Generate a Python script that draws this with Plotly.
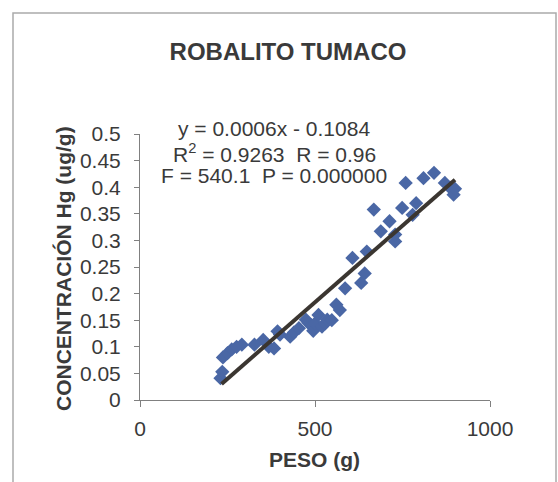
import plotly.graph_objects as go

# Data
peso = [230, 235, 237, 250, 262, 276, 291, 327, 352, 368, 383, 393, 400, 429, 440,
        454, 474, 481, 490, 495, 500, 510, 520, 529, 535, 548, 561, 571, 586, 607,
        632, 642, 648, 668, 688, 713, 729, 729, 749, 759, 779, 789, 810, 840, 871,
        886, 896, 900]
conc = [0.041, 0.053, 0.080, 0.088, 0.095, 0.100, 0.104, 0.104, 0.113, 0.100, 0.097,
        0.129, 0.123, 0.119, 0.127, 0.135, 0.151, 0.145, 0.140, 0.130, 0.144, 0.160,
        0.138, 0.144, 0.151, 0.150, 0.179, 0.169, 0.210, 0.267, 0.220, 0.238, 0.279,
        0.358, 0.317, 0.336, 0.298, 0.311, 0.361, 0.408, 0.348, 0.370, 0.417, 0.427,
        0.408, 0.399, 0.386, 0.397]
trend_x = [233, 900]
trend_y = [0.030, 0.414]

title_text = "ROBALITO TUMACO"
x_title = "PESO (g)"
y_title = "CONCENTRACIÓN Hg (ug/g)"
eq_lines = ["y = 0.0006x - 0.1084",
            "R<sup>2</sup> = 0.9263  R = 0.96",
            "F = 540.1  P = 0.000000"]

FONT = "Arial, Liberation Sans, sans-serif"
TXT = "#3a3a3a"
AX = "#808080"

fig = go.Figure()
fig.add_trace(go.Scatter(x=peso, y=conc, mode="markers",
                         marker=dict(symbol="diamond", size=11, color="#4a67a5",
                                     line=dict(width=0)),
                         showlegend=False, hoverinfo="skip"))
fig.add_trace(go.Scatter(x=trend_x, y=trend_y, mode="lines",
                         line=dict(color="#3b3631", width=4),
                         showlegend=False, hoverinfo="skip"))

W, H = 558, 482
L, R, T, B = 140, 68, 134, 82
pw, ph = W - L - R, H - T - B

def px(x):
    return (x - L) / pw

def py(y):
    return (H - B - y) / ph

annotations = []
for txt, yc in zip(eq_lines, [128.5, 152.5, 175.5]):
    annotations.append(dict(text=txt, xref="paper", yref="paper", x=px(274), y=py(yc),
                            xanchor="center", yanchor="middle", showarrow=False,
                            font=dict(family=FONT, size=21, color=TXT)))
annotations.append(dict(text="<b>" + x_title + "</b>", xref="paper", yref="paper",
                        x=px(314), y=py(460), xanchor="center", yanchor="middle",
                        showarrow=False, font=dict(family=FONT, size=21, color=TXT)))
annotations.append(dict(text="<b>" + y_title + "</b>", xref="paper", yref="paper",
                        x=px(63), y=py(269), xanchor="center", yanchor="middle",
                        textangle=-90, showarrow=False,
                        font=dict(family=FONT, size=21, color=TXT)))

fig.update_layout(
    width=W, height=H,
    margin=dict(l=L, r=R, t=T, b=B),
    paper_bgcolor="white", plot_bgcolor="white",
    title=dict(text="<b>" + title_text + "</b>", x=288 / W, y=1 - 52 / H,
               xanchor="center", yanchor="middle",
               font=dict(family=FONT, size=24, color=TXT)),
    annotations=annotations,
    shapes=[dict(type="rect", xref="paper", yref="paper",
                 x0=px(13), x1=px(556), y0=py(520), y1=py(13),
                 line=dict(color="#aaaaaa", width=1.5), layer="below")],
    xaxis=dict(range=[0, 1000], dtick=500, tick0=0, showgrid=False, zeroline=False,
               showline=True, linecolor=AX, linewidth=1, ticks="outside", ticklen=6,
               tickcolor=AX, ticklabelstandoff=4,
               tickfont=dict(family=FONT, size=21, color=TXT)),
    yaxis=dict(range=[0, 0.5], dtick=0.05, tick0=0, showgrid=False, zeroline=False,
               showline=True, linecolor=AX, linewidth=1, ticks="outside", ticklen=5,
               tickcolor=AX, ticklabelstandoff=9,
               tickfont=dict(family=FONT, size=21, color=TXT)),
)

fig.write_html("out.html")
